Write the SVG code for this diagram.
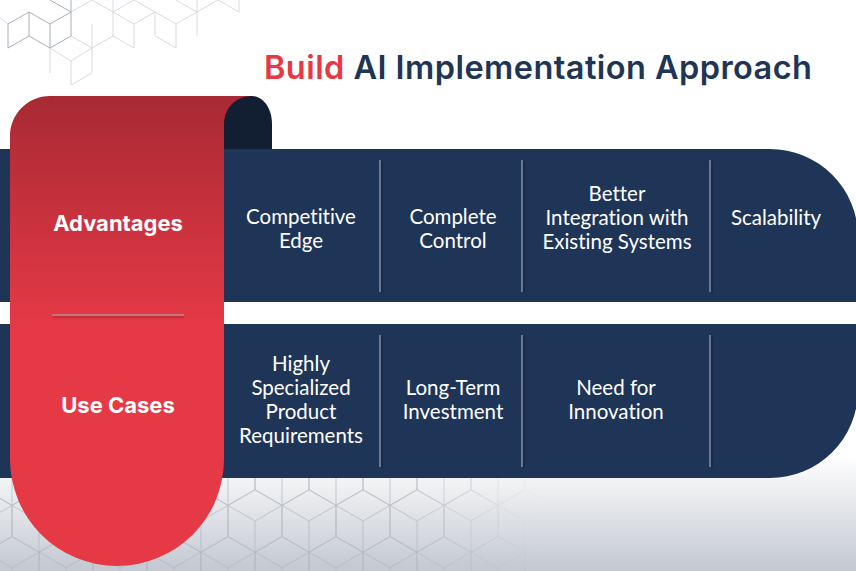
<svg xmlns="http://www.w3.org/2000/svg" xmlns:xlink="http://www.w3.org/1999/xlink" width="856" height="571" viewBox="0 0 856 571">
  <defs>
    <style>
      .band { fill: #1F3557; }
      .cell { font-family: Lato, "Liberation Sans", sans-serif; font-size: 20.5px; fill: #FFFFFF; text-anchor: middle; font-variant-ligatures: none; }
      .label { font-family: Inter, "Liberation Sans", sans-serif; font-size: 22px; font-weight: 700; fill: #FFFFFF; text-anchor: middle; }
      .div { stroke: #9CA8BA; stroke-width: 1.2; }
      .divsh { stroke: #14243B; stroke-width: 2; opacity: 0.6; }
      .hexA { stroke: #9EA6B3; stroke-width: 0.9; fill: none; }
      .hexB { stroke: #D3D7DD; stroke-width: 0.9; fill: none; }
      .cube { stroke: #AEB4BF; stroke-width: 0.8; fill: none; }
    </style>
    <linearGradient id="bgGrad" x1="0" y1="455" x2="0" y2="571" gradientUnits="userSpaceOnUse">
      <stop offset="0" stop-color="#FFFFFF"/>
      <stop offset="1" stop-color="#C3C8D1"/>
    </linearGradient>
    <linearGradient id="redGrad" x1="0" y1="96" x2="0" y2="330" gradientUnits="userSpaceOnUse">
      <stop offset="0" stop-color="#A82A34"/>
      <stop offset="1" stop-color="#E63946"/>
    </linearGradient>
    <linearGradient id="fadeGrad" x1="0" y1="0" x2="540" y2="0" gradientUnits="userSpaceOnUse">
      <stop offset="0.75" stop-color="#FFFFFF"/>
      <stop offset="1" stop-color="#000000"/>
    </linearGradient>
    <mask id="fadeMask" maskUnits="userSpaceOnUse" x="0" y="470" width="560" height="101">
      <rect x="0" y="470" width="560" height="101" fill="url(#fadeGrad)"/>
    </mask>
    <path id="cubeShape" d="M0,-31.2 L27,-15.6 L27,15.6 L0,31.2 L-27,15.6 L-27,-15.6 Z M-27,-15.6 L0,0 L27,-15.6 M0,0 L0,31.2"/>
    <pattern id="cubePat" patternUnits="userSpaceOnUse" x="39" y="521" width="54" height="93.6">
      <g class="cube">
        <use xlink:href="#cubeShape" x="0" y="0"/>
        <use xlink:href="#cubeShape" x="54" y="0"/>
        <use xlink:href="#cubeShape" x="27" y="46.8"/>
        <use xlink:href="#cubeShape" x="-27" y="46.8"/>
        <use xlink:href="#cubeShape" x="81" y="46.8"/>
        <use xlink:href="#cubeShape" x="0" y="93.6"/>
        <use xlink:href="#cubeShape" x="54" y="93.6"/>
      </g>
    </pattern>
  </defs>

  <g id="background">
    <rect x="0" y="0" width="856" height="571" fill="#FFFFFF"/>
    <rect x="0" y="455" width="856" height="116" fill="url(#bgGrad)"/>
    <rect x="0" y="477" width="560" height="94" fill="url(#cubePat)" mask="url(#fadeMask)" opacity="0.85"/>
    <g id="topPattern">
      <path class="hexA" d="M8,24 L29,12 M8,24 L8,48 M8,48 L29,36 M29,12 L29,36 M29,36 L50,48 M29,12 L50,24 M50,24 L71,12 M50,24 L50,48 M50,0 L71,12 M71,12 L71,36 M71,0 L71,12 M50,48 L71,36"/>
      <path class="hexB" d="M0,18 L8,24 M71,12 L92,0 M50,48 L71,61 M50,48 L50,73 M71,36 L92,48 M71,61 L92,48 M71,61 L71,85 M71,85 L92,73 M92,24 L92,73 M92,48 L113,36 M92,0 L113,12 M113,0 L113,36 M113,12 L134,0 M113,36 L134,48 M134,24 L134,48 M113,12 L134,24 M134,24 L155,12 M134,0 L155,12 M155,12 L155,36 M155,36 L176,48 M176,24 L176,48 M155,12 L176,24 M176,24 L197,12 M176,0 L197,12 M197,0 L197,36 M197,12 L218,0 M218,0 L239,12 M239,0 L239,12"/>
    </g>
  </g>

  <g id="title">
    <text x="264" y="79" font-family="Inter, 'Liberation Sans', sans-serif" font-size="32.5" font-weight="600" textLength="548"><tspan fill="#E63946">Build</tspan><tspan fill="#1E3556"> AI Implementation Approach</tspan></text>
  </g>

  <g id="advantages-band">
    <path class="band" d="M0,149 H770 A88,88 0 0 1 858,237 V302 H0 Z"/>
  </g>
  <g id="usecases-band">
    <path class="band" d="M0,324 H858 V390 A88,88 0 0 1 770,478 H0 Z"/>
  </g>

  <g id="connectors">
    <line class="divsh" x1="382" y1="161" x2="382" y2="293"/>
    <line class="divsh" x1="524" y1="161" x2="524" y2="293"/>
    <line class="divsh" x1="712" y1="161" x2="712" y2="293"/>
    <line class="divsh" x1="382" y1="336" x2="382" y2="468"/>
    <line class="divsh" x1="524" y1="336" x2="524" y2="468"/>
    <line class="divsh" x1="712" y1="336" x2="712" y2="468"/>
    <line class="div" x1="380" y1="160" x2="380" y2="292"/>
    <line class="div" x1="522" y1="160" x2="522" y2="292"/>
    <line class="div" x1="710" y1="160" x2="710" y2="292"/>
    <line class="div" x1="380" y1="335" x2="380" y2="467"/>
    <line class="div" x1="522" y1="335" x2="522" y2="467"/>
    <line class="div" x1="710" y1="335" x2="710" y2="467"/>
  </g>

  <g id="adv-competitive-edge">
    <text class="cell" x="301" y="224">Competitive</text>
    <text class="cell" x="301" y="248">Edge</text>
  </g>
  <g id="adv-complete-control">
    <text class="cell" x="453" y="224">Complete</text>
    <text class="cell" x="453" y="248">Control</text>
  </g>
  <g id="adv-integration">
    <text class="cell" x="617" y="201">Better</text>
    <text class="cell" x="617" y="225">Integration with</text>
    <text class="cell" x="617" y="249">Existing Systems</text>
  </g>
  <g id="adv-scalability">
    <text class="cell" x="776" y="225">Scalability</text>
  </g>

  <g id="uc-specialized">
    <text class="cell" x="301" y="371">Highly</text>
    <text class="cell" x="301" y="395">Specialized</text>
    <text class="cell" x="301" y="419">Product</text>
    <text class="cell" x="301" y="443">Requirements</text>
  </g>
  <g id="uc-long-term">
    <text class="cell" x="453" y="395">Long-Term</text>
    <text class="cell" x="453" y="419">Investment</text>
  </g>
  <g id="uc-innovation">
    <text class="cell" x="616" y="395">Need for</text>
    <text class="cell" x="616" y="419">Innovation</text>
  </g>

  <g id="ribbon">
    <path d="M10,136 C10,114 28,96 50,96 H252 V149 H224 V459 A107,107 0 0 1 10,459 Z" fill="url(#redGrad)"/>
    <path d="M224,149 V124 C224,108 236,96 252,96 C263,96 272,108 272,124 V149 Z" fill="#121F33"/>
    <line x1="53" y1="317" x2="184" y2="317" stroke="#9A1F2A" stroke-width="2.5" opacity="0.35"/>
    <line x1="52" y1="315" x2="184" y2="315" stroke="#A9AEB8" stroke-width="1.2"/>
  </g>

  <g id="label-advantages">
    <text class="label" x="118" y="231">Advantages</text>
  </g>
  <g id="label-usecases">
    <text class="label" x="118" y="413">Use Cases</text>
  </g>
</svg>
